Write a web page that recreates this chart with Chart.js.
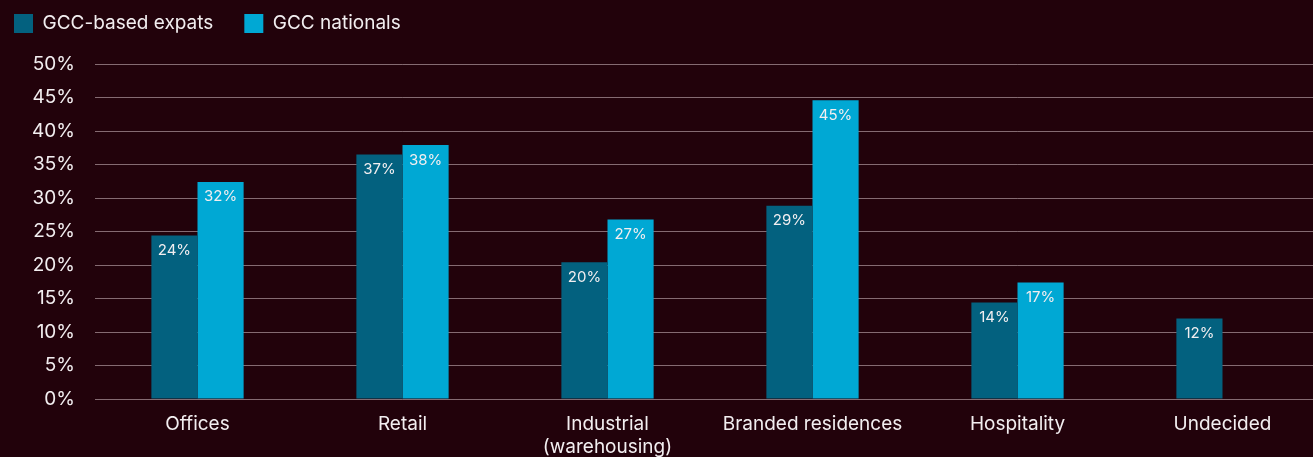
<!DOCTYPE html>
<html>
<head>
<meta charset="utf-8">
<script src="https://cdn.jsdelivr.net/npm/chart.js@4/dist/chart.umd.min.js"></script>
<style>
  html, body { margin: 0; padding: 0; background: #22020b; overflow: hidden; }
  #wrap { position: relative; width: 1325px; height: 457px; }
</style>
</head>
<body>
<div id="wrap"><canvas id="chart"></canvas></div>
<script>
// Investment preference by asset class, share of respondents (%)
const categories = ['Offices', 'Retail', ['Industrial', '(warehousing)'], 'Branded residences', 'Hospitality', 'Undecided'];
const expats = [24.4, 36.5, 20.4, 28.85, 14.4, 12.0];
const nationals = [32.4, 37.9, 26.8, 44.6, 17.4, null];
const seriesNames = ['GCC-based expats', 'GCC nationals'];
const yTicks = [0, 5, 10, 15, 20, 25, 30, 35, 40, 45, 50];

const FONT = 'Inter, "Liberation Sans", Arial, sans-serif';
const TEXT = '#f2eef0';

// Writes each bar's rounded value just under its top edge
const barValueLabels = {
  id: 'barValueLabels',
  afterDatasetsDraw(chart) {
    const ctx = chart.ctx;
    ctx.save();
    ctx.font = '15px ' + FONT;
    ctx.fillStyle = TEXT;
    ctx.textAlign = 'center';
    ctx.textBaseline = 'middle';
    chart.data.datasets.forEach((ds, i) => {
      const meta = chart.getDatasetMeta(i);
      meta.data.forEach((bar, j) => {
        const v = ds.data[j];
        if (v === null || v === undefined) return;
        ctx.fillText(Math.round(v) + '%', bar.x, bar.y + 15);
      });
    });
    ctx.restore();
  }
};

// Leaves a fixed gap between the legend row and the plot area
const legendSpacing = {
  id: 'legendSpacing',
  beforeUpdate(chart) {
    const legend = chart.legend;
    if (!legend || legend._spaced) return;
    const fit = legend.fit;
    legend.fit = function () { fit.call(this); this.height = 81; };
    legend._spaced = true;
  }
};

new Chart(document.getElementById('chart'), {
  type: 'bar',
  data: {
    labels: categories,
    datasets: [
      { label: seriesNames[0], data: expats, backgroundColor: '#03617f' },
      { label: seriesNames[1], data: nationals, backgroundColor: '#00a8d4' }
    ]
  },
  options: {
    responsive: true,
    maintainAspectRatio: false,
    animation: false,
    layout: { padding: { left: -17, right: 0, top: -17, bottom: 0 } },
    datasets: { bar: { barPercentage: 1, categoryPercentage: 0.45 } },
    plugins: {
      legend: {
        position: 'top',
        align: 'start',
        labels: {
          color: TEXT,
          font: { family: FONT, size: 19 },
          boxWidth: 19,
          boxHeight: 19,
          padding: 31
        }
      },
      tooltip: { enabled: false }
    },
    scales: {
      x: {
        afterFit(scale) { scale.height = 58; },
        grid: { display: false, drawTicks: false },
        border: { display: false },
        ticks: { color: TEXT, font: { family: FONT, size: 19, lineHeight: 1.2 }, padding: 14, maxRotation: 0, autoSkip: false }
      },
      y: {
        min: 0,
        max: 50,
        afterBuildTicks(scale) { scale.ticks = yTicks.map(v => ({ value: v })); },
        afterFit(scale) { scale.width = 112; },
        grid: { color: 'rgba(255,235,240,0.45)', lineWidth: 1, drawTicks: false },
        border: { display: false },
        ticks: { color: TEXT, font: { family: FONT, size: 19 }, padding: 20, callback: v => v + '%' }
      }
    }
  },
  plugins: [barValueLabels, legendSpacing]
});
</script>
</body>
</html>
